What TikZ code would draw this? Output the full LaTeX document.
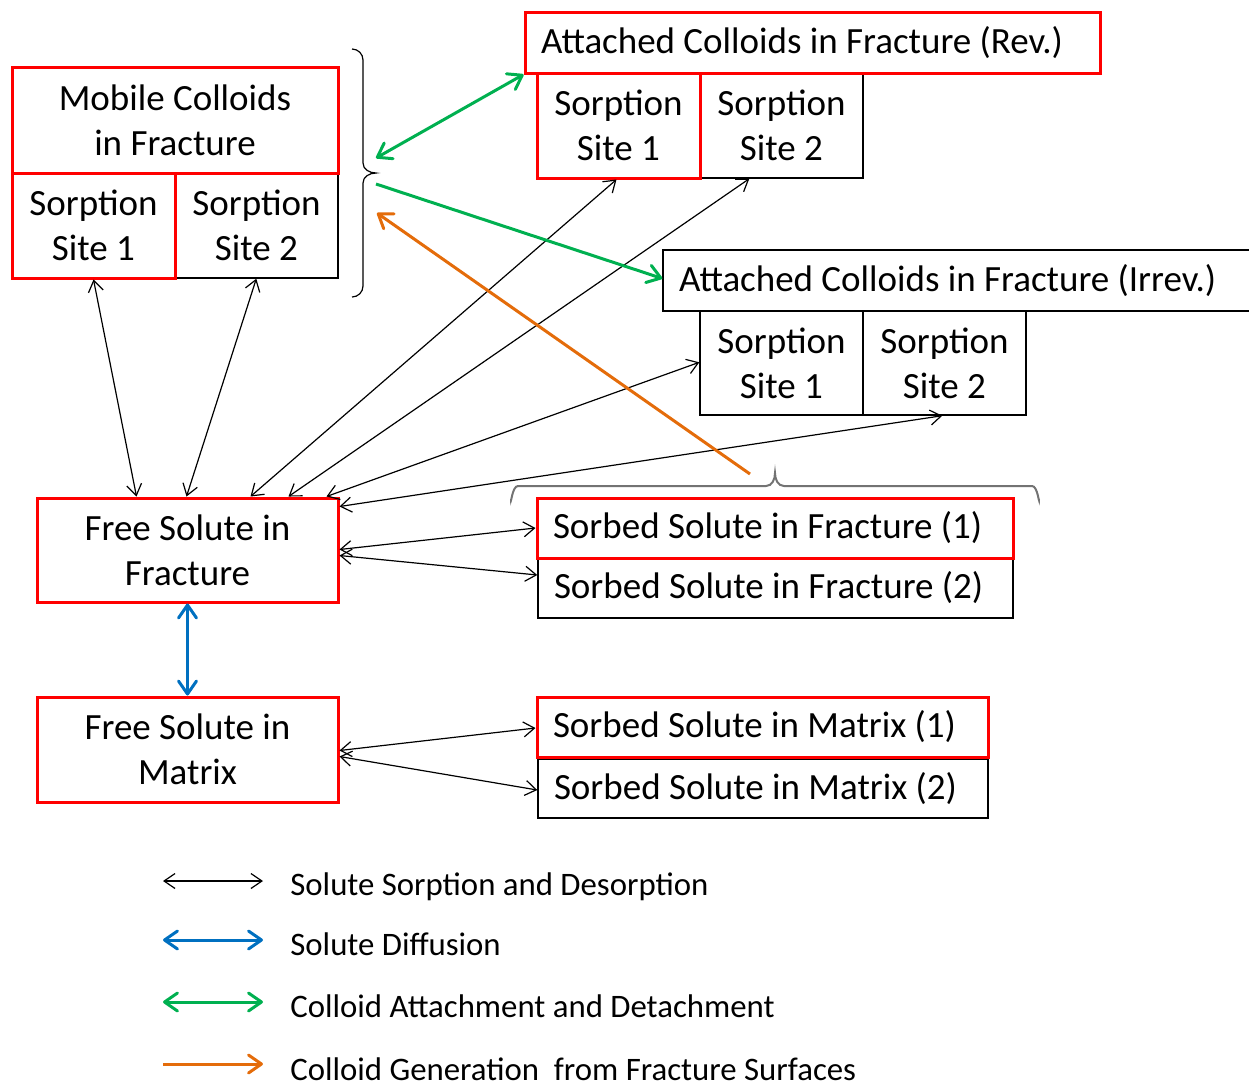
\documentclass[tikz,border=0pt]{standalone}
\usepackage{fontspec}
\setmainfont{Carlito}
\newfontfamily\boxfam{Carlito}[WordSpace=0.75]
\newfontfamily\rowfam{Carlito}
\usetikzlibrary{arrows.meta,calc}
\definecolor{cgreen}{RGB}{0,176,80}
\definecolor{cblue}{RGB}{0,112,192}
\definecolor{corange}{RGB}{228,108,10}
\newcommand\bxfont{\boxfam\fontsize{18.5}{22.5}\selectfont}
\newcommand\lgfont{\fontsize{16.4}{20}\selectfont}
\newcommand\lrow[1]{\mbox{\rowfam\spaceskip=0pt\xspaceskip=0pt\relax #1}}
\tikzset{
  tipc/.tip={Straight Barb[length=6.5pt,width=9pt,round]},
  tips/.tip={Straight Barb[length=5.5pt,width=7.5pt]}
}
\begin{document}
\begin{tikzpicture}[x=0.5pt,y=-0.5pt,
  basebox/.style={inner sep=0pt, align=center, font=\bxfont},
  rbox/.style={basebox, draw=red, line width=1.5pt},
  bbox/.style={basebox, draw=black, line width=0.7pt},
  lbox/.style={inner xsep=8pt, inner ysep=0pt, align=left},
  sorp/.style={black, line width=0.6pt, tips-tips},
  thick2/.style={line width=1.5pt},
  lgtext/.style={anchor=base west, inner sep=0pt, font=\lgfont}
]
\useasboundingbox (0,0) rectangle (1249,1084);

% ---------- black boxes (drawn first) ----------
\node[bbox, minimum width=81.5pt, minimum height=52.5pt] (ms2) at (256.5,225.5) {Sorption\\Site 2};
\node[bbox, minimum width=81.5pt, minimum height=52.5pt] (rs2) at (781.5,125.5) {Sorption\\Site 2};
\node[bbox, lbox, text width=279pt, minimum height=30.5pt] (ai) at (958,280.5) {\lrow{Attached Colloids in Fracture (Irrev.)}};
\node[bbox, minimum width=81.5pt, minimum height=52pt] (is1) at (781.5,363) {Sorption\\Site 1};
\node[bbox, minimum width=81.5pt, minimum height=52pt] (is2) at (944.5,363) {Sorption\\Site 2};
\node[bbox, lbox, text width=221.5pt, minimum height=30pt] (sf2) at (775.5,588) {\lrow{Sorbed Solute in Fracture (2)}};
\node[bbox, lbox, text width=209pt, minimum height=29.5pt] (sm2) at (763,788.5) {\lrow{Sorbed Solute in Matrix (2)}};

% ---------- red boxes ----------
\node[rbox, minimum width=163pt, minimum height=53pt] (mc) at (175,120) {Mobile Colloids\\in Fracture};
\node[rbox, minimum width=81.5pt, minimum height=52.5pt] (ms1) at (93.5,225.5) {Sorption\\Site 1};
\node[rbox, lbox, text width=271.5pt, minimum height=30.5pt] (ar) at (812.5,42.5) {\lrow{Attached Colloids in Fracture (Rev.)}};
\node[rbox, minimum width=81.5pt, minimum height=52.5pt] (rs1) at (618.5,125.5) {Sorption\\Site 1};
\node[rbox, minimum width=150.5pt, minimum height=52pt] (fsf) at (187.5,550) {Free Solute in\\Fracture};
\node[rbox, lbox, text width=222pt, minimum height=30pt] (sf1) at (775,528) {\lrow{Sorbed Solute in Fracture (1)}};
\node[rbox, minimum width=150.5pt, minimum height=52.5pt] (fsm) at (187.5,749.5) {Free Solute in\\Matrix};
\node[rbox, lbox, text width=209.5pt, minimum height=30pt] (sm1) at (762.5,727) {\lrow{Sorbed Solute in Matrix (1)}};

% ---------- braces ----------
\coordinate (bt) at (376,173);
\draw[black, line width=0.6pt] (352,49) to[out=0,in=90] (363,60) -- (363,163)
  to[out=-90,in=180] (bt) to[out=180,in=90] (363,183) -- (363,286) to[out=-90,in=0] (352,297);
\coordinate (bb) at (775,473);
\draw[black!55, line width=1pt] (511,499) to[out=-90,in=180] (518,486) -- (766,486)
  to[out=0,in=-90] (bb) to[out=-90,in=180] (784,486) -- (1032,486) to[out=0,in=-90] (1039,499);

% ---------- sorption / desorption arrows ----------
\draw[sorp] ($(ms1.south west)+(83,0)$) -- ($(fsf.north west)+(101,0)$);
\draw[sorp] ($(ms2.south west)+(82,0)$) -- ($(fsf.north west)+(151,0)$);
\draw[sorp] ($(rs1.south west)+(81,0)$) -- ($(fsf.north west)+(215,0)$);
\draw[sorp] ($(rs2.south west)+(50,0)$) -- ($(fsf.north west)+(253,0)$);
\draw[sorp] ($(is1.north west)+(0,52)$) -- ($(fsf.north west)+(291,0)$);
\draw[sorp] ($(is2.south west)+(80,0)$) -- ($(fsf.north east)+(0,10)$);
\draw[sorp] ($(fsf.north east)+(0,53)$) -- ($(sf1.west)+(0,0)$);
\draw[sorp] ($(fsf.north east)+(0,59)$) -- ($(sf2.west)+(0,-13)$);
\draw[sorp] ($(fsm.north east)+(0,55)$) -- ($(sm1.west)+(0,1)$);
\draw[sorp] ($(fsm.north east)+(0,61)$) -- ($(sm2.west)+(0,1.5)$);

% ---------- diffusion ----------
\draw[cblue, thick2, tipc-tipc] (fsf.south) -- (fsm.north);

% ---------- colloid attachment ----------
\draw[cgreen, thick2, tipc-tipc] ($(bt)+(0,-15)$) -- (ar.south west);
\draw[cgreen, thick2, -tipc] ($(bt)+(0,11)$) -- ($(ai.west)+(0,-2)$);

% ---------- colloid generation ----------
\draw[corange, thick2, -tipc] ($(bb)+(-25,1)$) -- ($(bt)+(1,40)$);

% ---------- legend ----------
\coordinate (l1a) at (163,881); \coordinate (l1b) at (263,881);
\coordinate (l2a) at (163,940); \coordinate (l2b) at (263,940);
\coordinate (l3a) at (163,1002); \coordinate (l3b) at (263,1002);
\coordinate (l4a) at (163,1064); \coordinate (l4b) at (263,1064);
\draw[sorp] (l1a) -- (l1b);
\draw[cblue, thick2, tipc-tipc] (l2a) -- (l2b);
\draw[cgreen, thick2, tipc-tipc] (l3a) -- (l3b);
\draw[corange, thick2, -tipc] (l4a) -- (l4b);
\node[lgtext] (t1) at (290,895) {Solute Sorption and Desorption};
\node[lgtext] (t2) at (290,955) {Solute Diffusion};
\node[lgtext] (t3) at (290,1017) {Colloid Attachment and Detachment};
\node[lgtext] (t4) at (290,1080) {Colloid Generation\ \ from Fracture Surfaces};
\end{tikzpicture}
\end{document}
